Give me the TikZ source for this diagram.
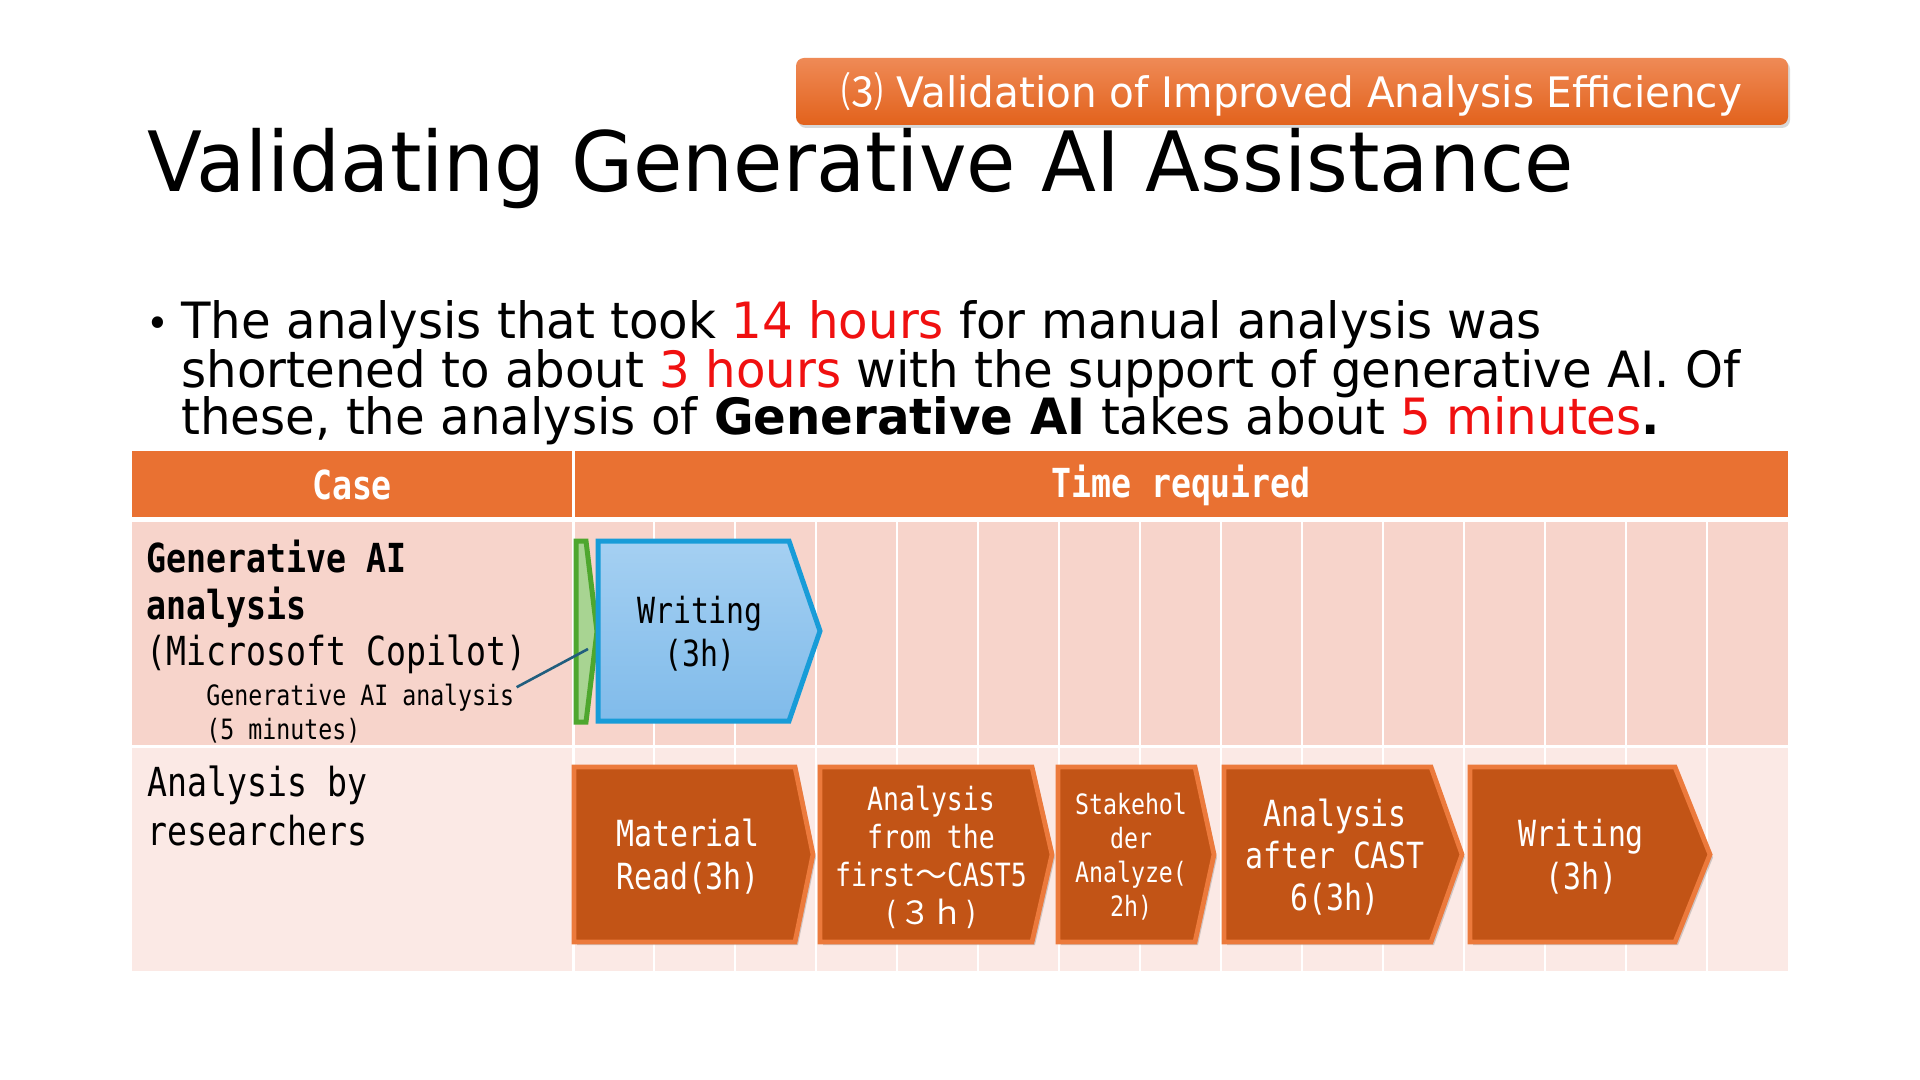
\documentclass[tikz,border=0pt]{standalone}
\usepackage{fontspec}
\setmainfont[FakeStretch=0.965]{DejaVu Sans}
\newfontfamily\cjk{Noto Sans CJK JP}
\newfontfamily\tbl[FakeStretch=0.83]{DejaVu Sans Mono}
\usetikzlibrary{shadows}
\definecolor{hdrorange}{HTML}{E97132}
\definecolor{rowone}{HTML}{F7D4CB}
\definecolor{rowtwo}{HTML}{FBE9E5}
\definecolor{chevfill}{HTML}{C25416}
\definecolor{chevline}{HTML}{EC7A3C}
\definecolor{bluetop}{HTML}{A5D0F2}
\definecolor{bluebot}{HTML}{80BBEA}
\definecolor{blueline}{HTML}{189CD8}
\definecolor{greenline}{HTML}{4EA72E}
\definecolor{greenfill}{HTML}{A8D492}
\definecolor{calloutline}{HTML}{215E7E}
\definecolor{bantop}{HTML}{EF8A56}
\definecolor{banbot}{HTML}{E2621C}
\definecolor{redtext}{HTML}{F01010}
\newcommand\mychev[6]{% #1 style, #2 left, #3 top, #4 shoulder, #5 tip, #6 bottom
  \path[#1] (#2,#3) -- (#4,#3) -- (#5,{(#3+#6)/2}) -- (#4,#6) -- (#2,#6) -- cycle;}
\begin{document}
\begin{tikzpicture}[x=0.5pt,y=-0.5pt,
  plain/.style={inner sep=0pt, anchor=base west},
  titlefont/.style={font=\fontsize{41.6}{50}\selectfont},
  bodyfont/.style={font=\fontsize{25}{30}\selectfont},
  hdrtext/.style={inner sep=0pt, text=white, font=\tbl\bfseries\fontsize{20}{24}\selectfont},
  lbl/.style={plain, font=\tbl\fontsize{20}{24}\selectfont},
  lblbold/.style={plain, font=\tbl\bfseries\fontsize{20}{24}\selectfont},
  lblsmall/.style={plain, font=\tbl\fontsize{14}{17}\selectfont},
  chevshape/.style={fill=chevfill, draw=chevline, line width=2.4pt, line join=miter,
    drop shadow={opacity=0.35, shadow xshift=1.5pt, shadow yshift=-1.5pt}},
  chevtext/.style={inner sep=0pt, align=center, text=white},
  bluechev/.style={top color=bluetop, bottom color=bluebot, draw=blueline, line width=2.5pt},
  greenchev/.style={fill=greenfill, draw=greenline, line width=2.5pt},
]
\useasboundingbox (0,0) rectangle (1920,1080);
\fill[white] (0,0) rectangle (1920,1080);

% banner
\path[top color=bantop, bottom color=banbot, rounded corners=4pt,
  drop shadow={opacity=0.3, shadow xshift=1pt, shadow yshift=-1.5pt}]
  (796,58) rectangle (1788,125);
\node[plain, anchor=base, text=white, font=\fontsize{21}{25}\selectfont] (bannertext) at (1292,108)
  {{\cjk ⑶} Validation of Improved Analysis Efficiency};

% title
\node[plain, titlefont] (title) at (147,192) {Validating Generative AI Assistance};

% bullet text
\node[plain, font=\fontsize{20}{24}\selectfont] (bullet) at (146,337) {•};
\node[plain, bodyfont] (line1) at (181,339) {The analysis that took \textcolor{redtext}{14 hours} for manual analysis was};
\node[plain, bodyfont] (line2) at (181,387) {shortened to about \textcolor{redtext}{3 hours} with the support of generative AI. Of};
\node[plain, bodyfont] (line3) at (181,434) {these, the analysis of \textbf{Generative AI} takes about \textcolor{redtext}{5 minutes}\textbf{.}};

% table
\fill[hdrorange] (132,451) rectangle (1788,517);
\fill[rowone] (132,522) rectangle (1788,745);
\fill[rowtwo] (132,748) rectangle (1788,971);
\draw[white, line width=1.5pt] (573,451) -- (573,971);
\foreach \i in {1,...,14} \draw[white, line width=1.1pt] ({573+81*\i},522) -- ({573+81*\i},971);

\node[hdrtext] (casehdr) at (352,485) {Case};
\node[hdrtext] (timehdr) at (1181,485) {Time required};

% row 1 labels
\node[lblbold] (r1a) at (146,572) {Generative AI};
\node[lblbold] (r1b) at (146,619) {analysis};
\node[lbl] (r1c) at (146,665) {(Microsoft Copilot)};
\node[lblsmall] (r1d) at (206,705) {Generative AI analysis};
\node[lblsmall] (r1e) at (206,739) {(5 minutes)};

% row 2 labels
\node[lbl] (r2a) at (147,796) {Analysis by};
\node[lbl] (r2b) at (147,845) {researchers};

% row 1 chevrons
\mychev{greenchev}{576}{541}{586}{597}{722}
\mychev{bluechev}{598}{541}{789}{820}{721}
\node[chevtext, text=black, font=\tbl\fontsize{18}{21.5}\selectfont] (bluewriting) at (700,634) {Writing\\(3h)};
\coordinate (greenpt) at (588,649);
\draw[calloutline, line width=1.3pt] (r1d.east) ++(2,-10) coordinate (callstart) -- (greenpt);

% row 2 chevrons
\mychev{chevshape}{574}{767}{795}{813}{942}
\mychev{chevshape}{820}{767}{1032}{1052}{942}
\mychev{chevshape}{1058}{767}{1195}{1214}{942}
\mychev{chevshape}{1224}{767}{1431}{1462}{942}
\mychev{chevshape}{1470}{767}{1675}{1710}{942}

\node[chevtext, font=\tbl\fontsize{18}{21.5}\selectfont] (material) at (688,857) {Material\\Read(3h)};
\node[chevtext, font=\tbl\fontsize{16}{19}\selectfont] (firstcast) at (931,857) {Analysis\\from the\\first{\cjk ～}CAST5\\({\cjk ３ｈ})};
\node[chevtext, font=\tbl\fontsize{14}{17}\selectfont] (stake) at (1131,857) {Stakehol\\der\\Analyze(\\2h)};
\node[chevtext, font=\tbl\fontsize{18}{21}\selectfont] (aftercast) at (1335,857) {Analysis\\after CAST\\6(3h)};
\node[chevtext, font=\tbl\fontsize{18}{21.5}\selectfont] (writing) at (1581,857) {Writing\\(3h)};
\end{tikzpicture}
\end{document}
